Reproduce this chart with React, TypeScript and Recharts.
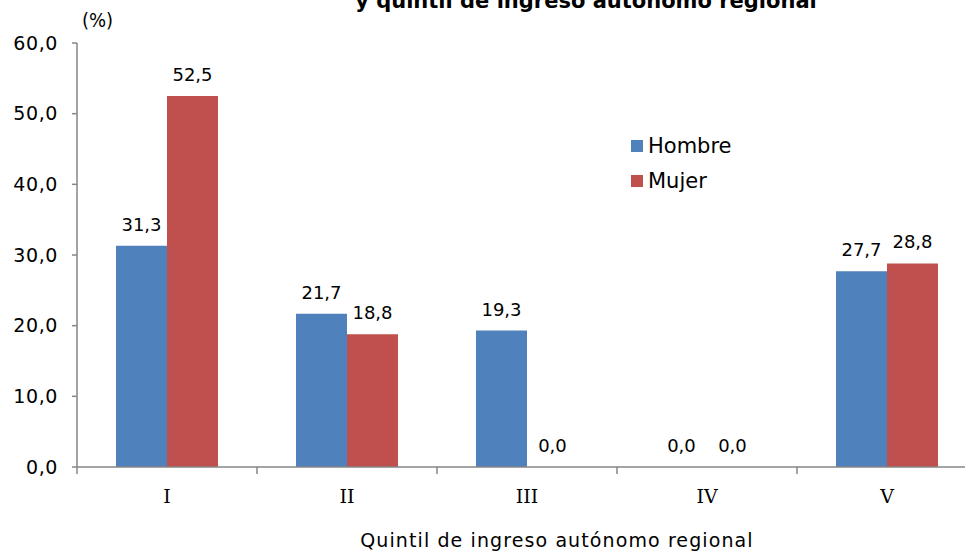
import React from 'react';
import { BarChart, Bar, XAxis, YAxis, LabelList, Legend } from 'recharts';

const categories = ['I', 'II', 'III', 'IV', 'V'];
const hombreValues = [31.3, 21.7, 19.3, 0.0, 27.7];
const mujerValues = [52.5, 18.8, 0.0, 0.0, 28.8];
const yTicks = [0, 10, 20, 30, 40, 50, 60];
const seriesNames = ['Hombre', 'Mujer'];
const seriesColors = ['#4F81BD', '#C0504D'];
const titleText = 'y quintil de ingreso autónomo regional';
const unitText = '(%)';
const xAxisTitle = 'Quintil de ingreso autónomo regional';

const data = categories.map((c, i) => ({
  cat: c,
  Hombre: hombreValues[i],
  Mujer: mujerValues[i],
}));

const CHART_W = 990;
const CHART_H = 556;
const MARGIN = { top: 43, right: 13, bottom: 0, left: 0 };
const Y_W = 77;
const BAND = (CHART_W - MARGIN.right - MARGIN.left - Y_W) / categories.length;
const AXIS_COLOR = '#868686';
const FONT = '"DejaVu Sans", Verdana, sans-serif';

const fmt = (v: any) => Number(v).toFixed(1).replace('.', ',');

const CategoryTick = (props: any) => {
  const { x, y, payload, index } = props;
  const half = payload && typeof payload.offset === 'number' && payload.offset > 0 ? payload.offset : BAND / 2;
  const axisY = y - 6;
  return (
    <g>
      <line x1={x - half} x2={x - half} y1={axisY} y2={axisY + 7} stroke={AXIS_COLOR} strokeWidth={1.5} />
      {index === categories.length - 1 && (
        <line x1={x + half} x2={x + half} y1={axisY} y2={axisY + 7} stroke={AXIS_COLOR} strokeWidth={1.5} />
      )}
      <text x={x} y={axisY + 36} textAnchor="middle" fontFamily='"DejaVu Serif", serif' fontSize={19} fill="#000">
        {payload.value}
      </text>
    </g>
  );
};

const ValueLabel = (props: any) => {
  const { x, y, width, value } = props;
  if (value === undefined || value === null) return null;
  return (
    <text x={x + width / 2} y={y - 15} textAnchor="middle" fontFamily={FONT} fontSize={18} fill="#000">
      {fmt(value)}
    </text>
  );
};

const LegendContent = () => (
  <div style={{ fontFamily: FONT, fontSize: 21, color: '#000' }}>
    {seriesNames.map((n, i) => (
      <div key={n} style={{ display: 'flex', alignItems: 'center', height: 35 }}>
        <span style={{ display: 'inline-block', width: 12, height: 12, background: seriesColors[i], marginRight: 5 }} />
        <span>{n}</span>
      </div>
    ))}
  </div>
);

export default function App() {
  return (
    <div style={{ position: 'fixed', left: 0, top: 0, width: 965, height: 556, overflow: 'hidden', background: '#fff' }}>
      <div
        style={{
          position: 'absolute',
          left: 586,
          top: -9,
          transform: 'translateX(-50%)',
          whiteSpace: 'nowrap',
          fontFamily: FONT,
          fontWeight: 'bold',
          fontSize: 21,
          lineHeight: '20px',
          color: '#000',
        }}
      >
        {titleText}
      </div>
      <div
        style={{
          position: 'absolute',
          left: 82,
          top: 9,
          whiteSpace: 'nowrap',
          fontFamily: '"Liberation Sans Narrow", "DejaVu Sans Condensed", sans-serif',
          fontSize: 20,
          lineHeight: '22px',
          color: '#000',
        }}
      >
        {unitText}
      </div>
      <BarChart width={CHART_W} height={CHART_H} data={data} margin={MARGIN} barCategoryGap={39} barGap={0}>
        <XAxis
          dataKey="cat"
          height={89}
          tickLine={false}
          tickSize={6}
          tickMargin={0}
          axisLine={{ stroke: AXIS_COLOR, strokeWidth: 1.5 }}
          tick={<CategoryTick />}
          interval={0}
          label={{
            value: xAxisTitle,
            position: 'insideBottom',
            offset: 9,
            dx: 30,
            fontFamily: FONT,
            fontSize: 19,
            letterSpacing: 1.1,
            fill: '#000',
          }}
        />
        <YAxis
          width={Y_W}
          domain={[0, 60]}
          ticks={yTicks}
          interval={0}
          tickFormatter={fmt}
          tickSize={5}
          tickMargin={14}
          axisLine={{ stroke: AXIS_COLOR, strokeWidth: 1.5 }}
          tickLine={{ stroke: AXIS_COLOR, strokeWidth: 1.5 }}
          tick={{ fontFamily: FONT, fontSize: 19, fill: '#000', letterSpacing: 0.6 }}
        />
        <Legend
          layout="horizontal"
          align="center"
          verticalAlign="middle"
          content={<LegendContent />}
          wrapperStyle={{ position: 'absolute', left: 631, top: 128, width: 'auto', height: 'auto' }}
        />
        {seriesNames.map((n, i) => (
          <Bar key={n} dataKey={n} fill={seriesColors[i]} isAnimationActive={false} minPointSize={0.01}>
            <LabelList dataKey={n} content={<ValueLabel />} />
          </Bar>
        ))}
      </BarChart>
    </div>
  );
}
